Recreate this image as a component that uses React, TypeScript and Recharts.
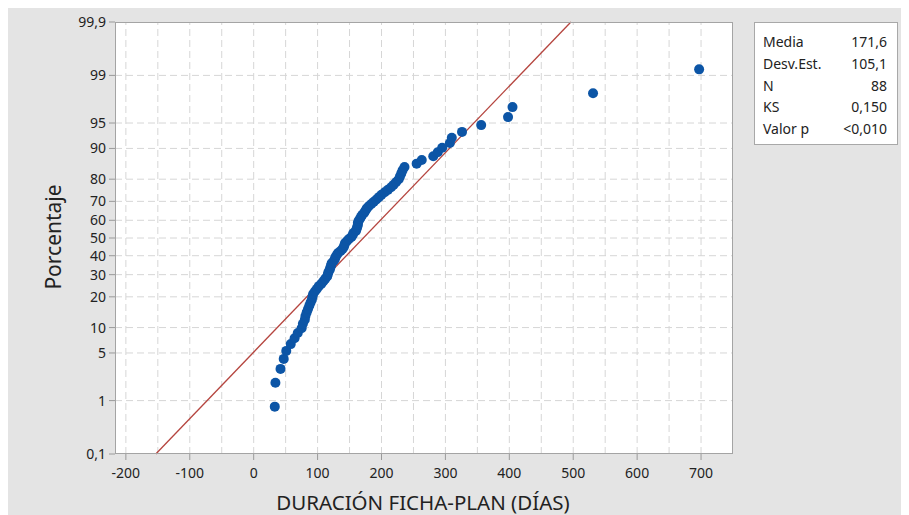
import React from "react";
import {
  ScatterChart,
  Scatter,
  XAxis,
  YAxis,
  CartesianGrid,
  ReferenceLine,
} from "recharts";

// sorted durations (days)
const durations = [
  33, 34, 42, 47, 51, 58, 64, 69, 75, 77,
  80, 81, 83, 85, 87, 89, 91, 92, 93, 96,
  99, 102, 106, 109, 112, 115, 116, 117, 119, 120,
  121, 122, 125, 127, 128, 130, 132, 136, 139, 141,
  142, 143, 146, 149, 153, 155, 156, 160, 161, 162,
  163, 163, 164, 166, 168, 170, 173, 175, 177, 180,
  184, 188, 192, 196, 200, 205, 210, 215, 219, 223,
  227, 229, 231, 233, 236, 255, 263, 281, 288, 295,
  307, 310, 326, 356, 398, 405, 531, 697,
];

const pctTicks = [0.1, 1, 5, 10, 20, 30, 40, 50, 60, 70, 80, 90, 95, 99, 99.9];
const pctGrid = [1, 5, 10, 20, 30, 40, 50, 60, 70, 80, 90, 95, 99];
const xTicks = [-200, -100, 0, 100, 200, 300, 400, 500, 600, 700];
const xGrid = [
  -200, -150, -100, -50, 0, 50, 100, 150, 200, 250, 300, 350, 400, 450, 500,
  550, 600, 650, 700,
];

const statLabels = ["Media", "Desv.Est.", "N", "KS", "Valor p"];
const statValues = ["171,6", "105,1", "88", "0,150", "<0,010"];
const mean = 171.6;
const sd = 105.1;

// inverse normal cdf (Acklam)
function normInv(p: number): number {
  const a = [-39.69683028665376, 220.9460984245205, -275.9285104469687, 138.357751867269, -30.66479806614716, 2.506628277459239];
  const b = [-54.47609879822406, 161.5858368580409, -155.6989798598866, 66.80131188771972, -13.28068155288572];
  const c = [-0.007784894002430293, -0.3223964580411365, -2.400758277161838, -2.549732539343734, 4.374664141464968, 2.938163982698783];
  const d = [0.007784695709041462, 0.3224671290700398, 2.445134137142996, 3.754408661907416];
  const plow = 0.02425;
  if (p < plow) {
    const q = Math.sqrt(-2 * Math.log(p));
    return (((((c[0] * q + c[1]) * q + c[2]) * q + c[3]) * q + c[4]) * q + c[5]) /
      ((((d[0] * q + d[1]) * q + d[2]) * q + d[3]) * q + 1);
  }
  if (p <= 1 - plow) {
    const q = p - 0.5;
    const r = q * q;
    return ((((((a[0] * r + a[1]) * r + a[2]) * r + a[3]) * r + a[4]) * r + a[5]) * q) /
      (((((b[0] * r + b[1]) * r + b[2]) * r + b[3]) * r + b[4]) * r + 1);
  }
  const q = Math.sqrt(-2 * Math.log(1 - p));
  return -(((((c[0] * q + c[1]) * q + c[2]) * q + c[3]) * q + c[4]) * q + c[5]) /
    ((((d[0] * q + d[1]) * q + d[2]) * q + d[3]) * q + 1);
}

const n = durations.length;
// median ranks (Benard)
const points = durations.map((x, i) => ({ x, z: normInv((i + 1 - 0.3) / (n + 0.4)) }));

const zMin = normInv(0.001);
const zMax = normInv(0.999);
const yTicks = pctTicks.map((p) => normInv(p / 100));

const fmtPct = (z: number) => {
  const idx = yTicks.findIndex((t) => Math.abs(t - z) < 1e-6);
  return idx >= 0 ? String(pctTicks[idx]).replace(".", ",") : "";
};

const FONT = "'Noto Sans', 'Open Sans', sans-serif";
const blue = "#0c55a6";

export default function App() {
  return (
    <div
      style={{
        position: "relative",
        width: 901,
        height: 507,
        background: "#e4e4e4",
        overflow: "hidden",
        fontFamily: FONT,
        color: "#222",
      }}
    >
      <ScatterChart
        width={901}
        height={507}
        margin={{ top: 14, right: 176, bottom: 31, left: 47 }}
      >
        <CartesianGrid fill="#ffffff" horizontal={false} vertical={false} />
        {xGrid.map((v) => (
          <ReferenceLine key={"gx" + v} x={v} stroke="#d6d6d6" strokeDasharray="7 4" />
        ))}
        {pctGrid.map((p) => (
          <ReferenceLine key={"gy" + p} y={normInv(p / 100)} stroke="#d6d6d6" strokeDasharray="7 4" />
        ))}
        <XAxis
          type="number"
          dataKey="x"
          domain={[-217, 750]}
          ticks={xTicks}
          interval={0}
          allowDataOverflow
          height={30}
          axisLine={false}
          tickSize={6}
          tickMargin={8}
          tickLine={{ stroke: "#9a9a9a" }}
          tick={{ fontSize: 14, fill: "#222", fontFamily: FONT }}
        />
        <YAxis
          type="number"
          dataKey="z"
          domain={[zMin, zMax]}
          ticks={yTicks}
          interval={0}
          allowDataOverflow
          width={60}
          axisLine={false}
          tickSize={6}
          tickMargin={3}
          tickLine={{ stroke: "#9a9a9a" }}
          tickFormatter={fmtPct}
          tick={{ fontSize: 14, fill: "#222", fontFamily: FONT }}
        />
        <Scatter
          data={points}
          fill={blue}
          isAnimationActive={false}
          shape={(p: any) => <circle cx={p.cx} cy={p.cy} r={5} fill={blue} />}
        />
        <ReferenceLine
          segment={[
            { x: mean + sd * zMin, y: zMin },
            { x: mean + sd * zMax, y: zMax },
          ]}
          stroke="#b5453f"
          strokeWidth={1.3}
        />
      </ScatterChart>

      {/* plot frame */}
      <div
        style={{
          position: "absolute",
          left: 107,
          top: 14,
          width: 618,
          height: 432,
          border: "1px solid #a4a4a4",
          boxSizing: "border-box",
          pointerEvents: "none",
        }}
      />

      <div
        style={{
          position: "absolute",
          left: 45,
          top: 229,
          transform: "translate(-50%, -50%) rotate(-90deg)",
          fontSize: 21,
          whiteSpace: "nowrap",
        }}
      >
        Porcentaje
      </div>

      <div
        style={{
          position: "absolute",
          left: 415,
          top: 484,
          transform: "translateX(-50%)",
          fontSize: 20.5,
          lineHeight: 1,
          whiteSpace: "nowrap",
        }}
      >
        DURACIÓN FICHA-PLAN (DÍAS)
      </div>

      <div
        style={{
          position: "absolute",
          left: 746,
          top: 14,
          width: 144,
          height: 123,
          background: "#fff",
          border: "1px solid #a8a8a8",
          boxSizing: "border-box",
          fontSize: 14,
        }}
      >
        {statLabels.map((lab, i) => (
          <div
            key={lab}
            style={{
              position: "absolute",
              left: 8,
              right: 10,
              top: 8 + i * 21.8,
              height: 21.8,
              lineHeight: "21.8px",
              display: "flex",
              justifyContent: "space-between",
            }}
          >
            <span>{lab}</span>
            <span>{statValues[i]}</span>
          </div>
        ))}
      </div>
    </div>
  );
}
